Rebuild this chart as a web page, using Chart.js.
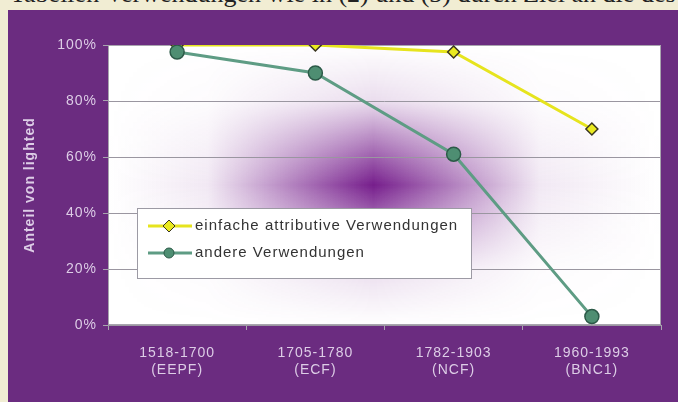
<!DOCTYPE html>
<html>
<head>
<meta charset="utf-8">
<script src="https://cdn.jsdelivr.net/npm/chart.js@4.4.1/dist/chart.umd.min.js"></script>
<style>
  html, body { margin: 0; padding: 0; background: #f1edd3; width: 678px; height: 402px; overflow: hidden; }
  #topText { position: absolute; left: 10px; top: -19px; font-family: "Liberation Serif", serif; font-size: 26px; line-height: 26px; color: #222; white-space: nowrap; }
  #frame { position: absolute; left: 8px; top: 10px; width: 670px; height: 392px; background: #6b2c80; }
  canvas { display: block; }
</style>
</head>
<body>
<div id="topText">Tabellen Verwendungen wie in (2) und (3) durch Ziel an die des</div>
<div id="frame"><canvas id="c" width="670" height="392"></canvas></div>
<script>
const categories = [["1518-1700", "(EEPF)"], ["1705-1780", "(ECF)"], ["1782-1903", "(NCF)"], ["1960-1993", "(BNC1)"]];
const seriesNames = ["einfache attributive Verwendungen", "andere Verwendungen"];
const attributiveValues = [100, 100, 97.5, 70];
const otherValues = [97.5, 90, 61, 3];
const yTickValues = [0, 20, 40, 60, 80, 100];
const yAxisTitle = "Anteil von lighted";

const tickColor = "#ddcde6";
const fontFam = "'Liberation Sans', Arial, sans-serif";

const spacingPlugin = {
  id: "spacing",
  beforeDraw(chart) { chart.ctx.letterSpacing = "1px"; }
};

const bgPlugin = {
  id: "plotBg",
  beforeDatasetsDraw(chart) {
    const { ctx, chartArea: a } = chart;
    const w = a.right - a.left, h = a.bottom - a.top;
    ctx.save();
    ctx.fillStyle = "#ffffff";
    ctx.fillRect(a.left, a.top, w, h);
    const off = document.createElement("canvas");
    off.width = Math.ceil(w); off.height = Math.ceil(h);
    const o = off.getContext("2d");
    const cx = 0.48 * w, cy = 0.50 * h;
    const hg = o.createLinearGradient(0, 0, w, 0);
    hg.addColorStop(0, "rgba(118,30,140,0)");
    hg.addColorStop(Math.max(0, cx / w - 0.30), "rgba(118,30,140,0.1)");
    hg.addColorStop(cx / w, "rgba(118,30,140,1)");
    hg.addColorStop(Math.min(1, cx / w + 0.30), "rgba(118,30,140,0.1)");
    hg.addColorStop(1, "rgba(118,30,140,0)");
    o.fillStyle = hg; o.fillRect(0, 0, w, h);
    o.globalCompositeOperation = "destination-in";
    const vg = o.createLinearGradient(0, 0, 0, h);
    vg.addColorStop(0, "rgba(0,0,0,0)");
    vg.addColorStop(0.2, "rgba(0,0,0,0.15)");
    vg.addColorStop(cy / h, "rgba(0,0,0,1)");
    vg.addColorStop(0.8, "rgba(0,0,0,0.15)");
    vg.addColorStop(1, "rgba(0,0,0,0)");
    o.fillStyle = vg; o.fillRect(0, 0, w, h);
    ctx.drawImage(off, a.left, a.top);
    const ys = chart.scales.y;
    ctx.strokeStyle = "#9a96a0"; ctx.lineWidth = 1;
    yTickValues.forEach(v => {
      const y = Math.round(ys.getPixelForValue(v)) + 0.5;
      ctx.beginPath(); ctx.moveTo(a.left, y); ctx.lineTo(a.right, y); ctx.stroke();
    });
    ctx.strokeStyle = "#a8a4ae";
    ctx.strokeRect(a.left + 0.5, a.top + 0.5, w - 1, h - 1);
    ctx.restore();
  }
};

const legendPlugin = {
  id: "innerLegend",
  afterDatasetsDraw(chart) {
    const { ctx } = chart;
    const x0 = 129, y0 = 198, bw = 334, bh = 70;
    ctx.save();
    ctx.fillStyle = "#ffffff";
    ctx.fillRect(x0, y0, bw, bh);
    ctx.strokeStyle = "#9c9aa4"; ctx.lineWidth = 1;
    ctx.strokeRect(x0 + 0.5, y0 + 0.5, bw, bh);
    ctx.font = "15px " + fontFam;
    ctx.letterSpacing = "1px";
    ctx.textBaseline = "middle";
    chart.data.datasets.forEach((ds, i) => {
      const ly = y0 + 18 + i * 27;
      const mx = x0 + 32;
      ctx.strokeStyle = ds.borderColor; ctx.lineWidth = 3;
      ctx.beginPath(); ctx.moveTo(x0 + 11, ly); ctx.lineTo(x0 + 55, ly); ctx.stroke();
      ctx.fillStyle = ds.pointBackgroundColor;
      ctx.strokeStyle = ds.pointBorderColor; ctx.lineWidth = 1;
      if (ds.pointStyle === "rectRot") {
        ctx.beginPath(); ctx.moveTo(mx, ly - 6); ctx.lineTo(mx + 6, ly); ctx.lineTo(mx, ly + 6); ctx.lineTo(mx - 6, ly); ctx.closePath();
      } else {
        ctx.beginPath(); ctx.arc(mx, ly, 5, 0, Math.PI * 2);
      }
      ctx.fill(); ctx.stroke();
      ctx.fillStyle = "#333333";
      ctx.fillText(ds.label, x0 + 58, ly);
    });
    ctx.restore();
  }
};

new Chart(document.getElementById("c"), {
  type: "line",
  data: {
    labels: categories,
    datasets: [
      {
        label: seriesNames[0], data: attributiveValues, order: 1,
        borderColor: "#e6e41e", borderWidth: 3,
        pointStyle: "rectRot", pointRadius: 6, pointBackgroundColor: "#eaea20", pointBorderColor: "#3a3520", pointBorderWidth: 1.5
      },
      {
        label: seriesNames[1], data: otherValues, order: 0,
        borderColor: "#5e9c84", borderWidth: 3,
        pointStyle: "circle", pointRadius: 7, pointBackgroundColor: "#4e8e72", pointBorderColor: "#2c5a48", pointBorderWidth: 1.5
      }
    ]
  },
  options: {
    responsive: false, animation: false,
    layout: { padding: { left: 14, top: 35, right: 17, bottom: 0 } },
    plugins: { legend: { display: false }, tooltip: { enabled: false } },
    scales: {
      x: {
        offset: true,
        grid: { offset: true, drawOnChartArea: false, drawTicks: true, tickLength: 5, color: "#a8a4ae" },
        border: { display: false },
        ticks: { color: tickColor, font: { family: fontFam, size: 14 }, padding: 15, maxRotation: 0 },
        afterFit(s) { s.height = 77; }
      },
      y: {
        min: 0, max: 100,
        afterBuildTicks(s) { s.ticks = yTickValues.map(v => ({ value: v })); },
        grid: { drawOnChartArea: false, drawTicks: true, tickLength: 5, color: "#a8a4ae" },
        border: { display: false },
        ticks: { color: tickColor, font: { family: fontFam, size: 14 }, padding: 6, callback: v => v + "%" },
        title: { display: true, text: yAxisTitle, color: tickColor, font: { family: fontFam, size: 14, weight: "bold" }, padding: { top: 0, bottom: 0 } },
        afterFit(s) { s.width = 86; }
      }
    }
  },
  plugins: [spacingPlugin, bgPlugin, legendPlugin]
});
</script>
</body>
</html>
